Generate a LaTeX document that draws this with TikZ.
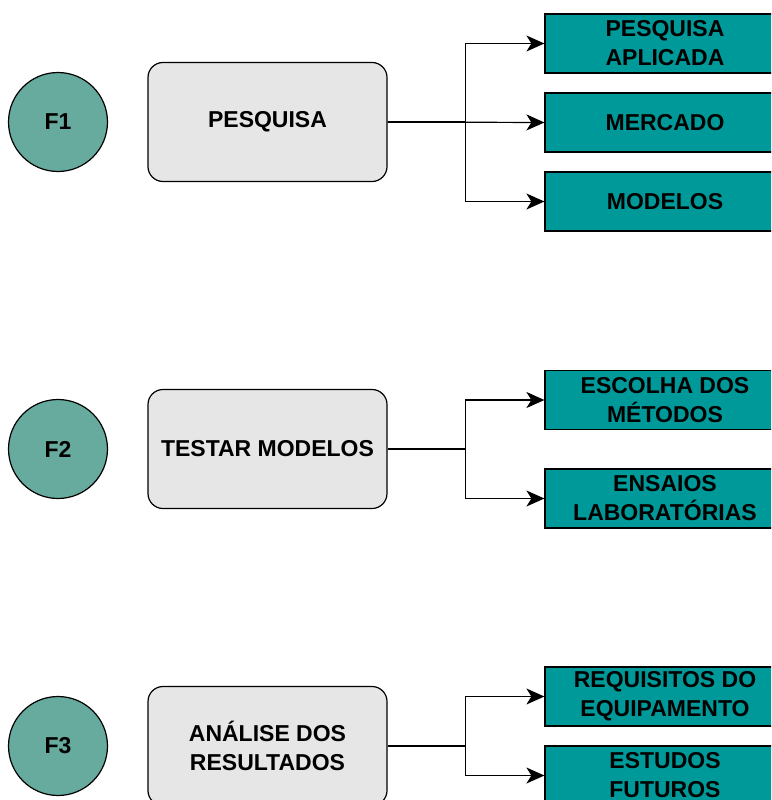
\documentclass[tikz,border=0pt]{standalone}
\usepackage{fontspec}
\setmainfont{Liberation Sans}
\usetikzlibrary{arrows.meta}

\definecolor{verdefase}{HTML}{67AB9F}
\definecolor{verdetarefa}{HTML}{009999}
\definecolor{cinzaetapa}{HTML}{E6E6E6}

\begin{document}
\begin{tikzpicture}[x=1pt,y=-1pt,
    fase/.style={circle,draw,line width=1.2pt,fill=verdefase,minimum size=99pt,inner sep=0pt,
      font=\fontsize{23}{29}\selectfont\bfseries},
    etapa/.style={rounded corners=15pt,draw,line width=1.2pt,fill=cinzaetapa,minimum width=239pt,
      minimum height=119pt,align=center,font=\fontsize{23}{29}\selectfont\bfseries},
    tarefa/.style={draw,line width=1.2pt,fill=verdetarefa,minimum width=240pt,minimum height=59pt,
      inner sep=0pt,align=center,font=\fontsize{23}{29}\selectfont\bfseries},
    seta/.style={line width=1.2pt,-{Stealth[length=18pt,width=16pt,inset=5pt]}}]
  \clip (0,0) rectangle (771,800);
  \foreach \i/\y/\t in {1/122/PESQUISA,2/449/TESTAR MODELOS,3/746/{ANÁLISE DOS\\RESULTADOS}} {
    \node[fase] (f\i) at (58,\y) {F\i};
    \node[etapa] (e\i) at (267.5,\y) {\t};
  }
  % tarefas
  \node[tarefa] (t1a) at (665,43.5) {PESQUISA\\APLICADA};
  \node[tarefa] (t1b) at (665,122.5) {MERCADO};
  \node[tarefa] (t1c) at (665,201.5) {MODELOS};
  \node[tarefa] (t2a) at (665,400) {ESCOLHA DOS\\MÉTODOS};
  \node[tarefa] (t2b) at (665,498.5) {ENSAIOS\\LABORATÓRIAS};
  \node[tarefa] (t3a) at (665,696.5) {REQUISITOS DO\\EQUIPAMENTO};
  \node[tarefa] (t3b) at (665,775.5) {ESTUDOS\\FUTUROS};
  % ligacoes
  \draw[seta] (e1.east) -- ++(78,0) |- (t1a.west);
  \draw[seta] (e1.east) -- (t1b.west);
  \draw[seta] (e1.east) -- ++(78,0) |- (t1c.west);
  \draw[seta] (e2.east) -- ++(78,0) |- (t2a.west);
  \draw[seta] (e2.east) -- ++(78,0) |- (t2b.west);
  \draw[seta] (e3.east) -- ++(78,0) |- (t3a.west);
  \draw[seta] (e3.east) -- ++(78,0) |- (t3b.west);
\end{tikzpicture}
\end{document}
